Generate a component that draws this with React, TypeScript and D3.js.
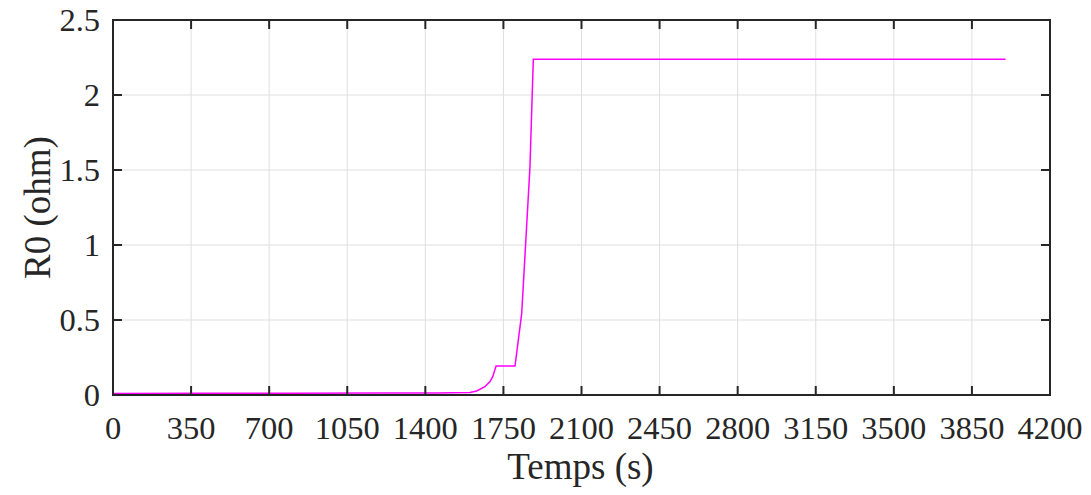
import React from "react";
import * as d3 from "d3";

const timeS = [0, 400, 800, 1200, 1450, 1600, 1630, 1667, 1690, 1702, 1717, 1802, 1832, 1869, 1884, 4001];
const r0Ohm = [0.01, 0.011, 0.012, 0.013, 0.014, 0.017, 0.027, 0.055, 0.089, 0.122, 0.193, 0.193, 0.544, 1.52, 2.238, 2.238];
const xTicks = [0, 350, 700, 1050, 1400, 1750, 2100, 2450, 2800, 3150, 3500, 3850, 4200];
const yTicks = [0, 0.5, 1, 1.5, 2, 2.5];
const yTickLabels = ["0", "0.5", "1", "1.5", "2", "2.5"];

const W = 1091, H = 495;
const L = 113, R = 1050, T = 20, B = 395;
const font = "'Liberation Serif', 'Times New Roman', serif";

export default function App() {
  const x = d3.scaleLinear().domain([0, 4200]).range([L, R]);
  const y = d3.scaleLinear().domain([0, 2.5]).range([B, T]);
  const line = d3.line<number>().x((_, i) => x(timeS[i])).y((d) => y(d));
  const tl = 9;
  const axisColor = "#262626";
  return (
    <svg width={W} height={H} style={{ position: "absolute", left: 0, top: 0, background: "#fff" }}>
      {xTicks.map((t) => (
        <line key={"gx" + t} x1={x(t)} x2={x(t)} y1={T} y2={B} stroke="#dfdfdf" strokeWidth={1} />
      ))}
      {yTicks.map((t) => (
        <line key={"gy" + t} x1={L} x2={R} y1={y(t)} y2={y(t)} stroke="#dfdfdf" strokeWidth={1} />
      ))}
      <path d={line(r0Ohm) || ""} fill="none" stroke="#ff00ff" strokeWidth={1.5} />
      {xTicks.map((t) => (
        <g key={"tx" + t}>
          <line x1={x(t)} x2={x(t)} y1={B} y2={B - tl} stroke={axisColor} strokeWidth={2} />
          <line x1={x(t)} x2={x(t)} y1={T} y2={T + tl} stroke={axisColor} strokeWidth={2} />
          <text x={x(t)} y={439} textAnchor="middle" fontFamily={font} fontSize={32.5} fill={axisColor}>{t}</text>
        </g>
      ))}
      {yTicks.map((t, i) => (
        <g key={"ty" + t}>
          <line x1={L} x2={L + tl} y1={y(t)} y2={y(t)} stroke={axisColor} strokeWidth={2} />
          <line x1={R} x2={R - tl} y1={y(t)} y2={y(t)} stroke={axisColor} strokeWidth={2} />
          <text x={100} y={y(t) + 11} textAnchor="end" fontFamily={font} fontSize={32.5} fill={axisColor}>{yTickLabels[i]}</text>
        </g>
      ))}
      <rect x={L} y={T} width={R - L} height={B - T} fill="none" stroke={axisColor} strokeWidth={2} />
      <text x={(L + R) / 2 - 1} y={479} textAnchor="middle" fontFamily={font} fontSize={37} fill={axisColor}>Temps (s)</text>
      <text transform={`translate(50, ${(T + B) / 2}) rotate(-90)`} textAnchor="middle" fontFamily={font} fontSize={37} fill={axisColor}>R0 (ohm)</text>
    </svg>
  );
}
